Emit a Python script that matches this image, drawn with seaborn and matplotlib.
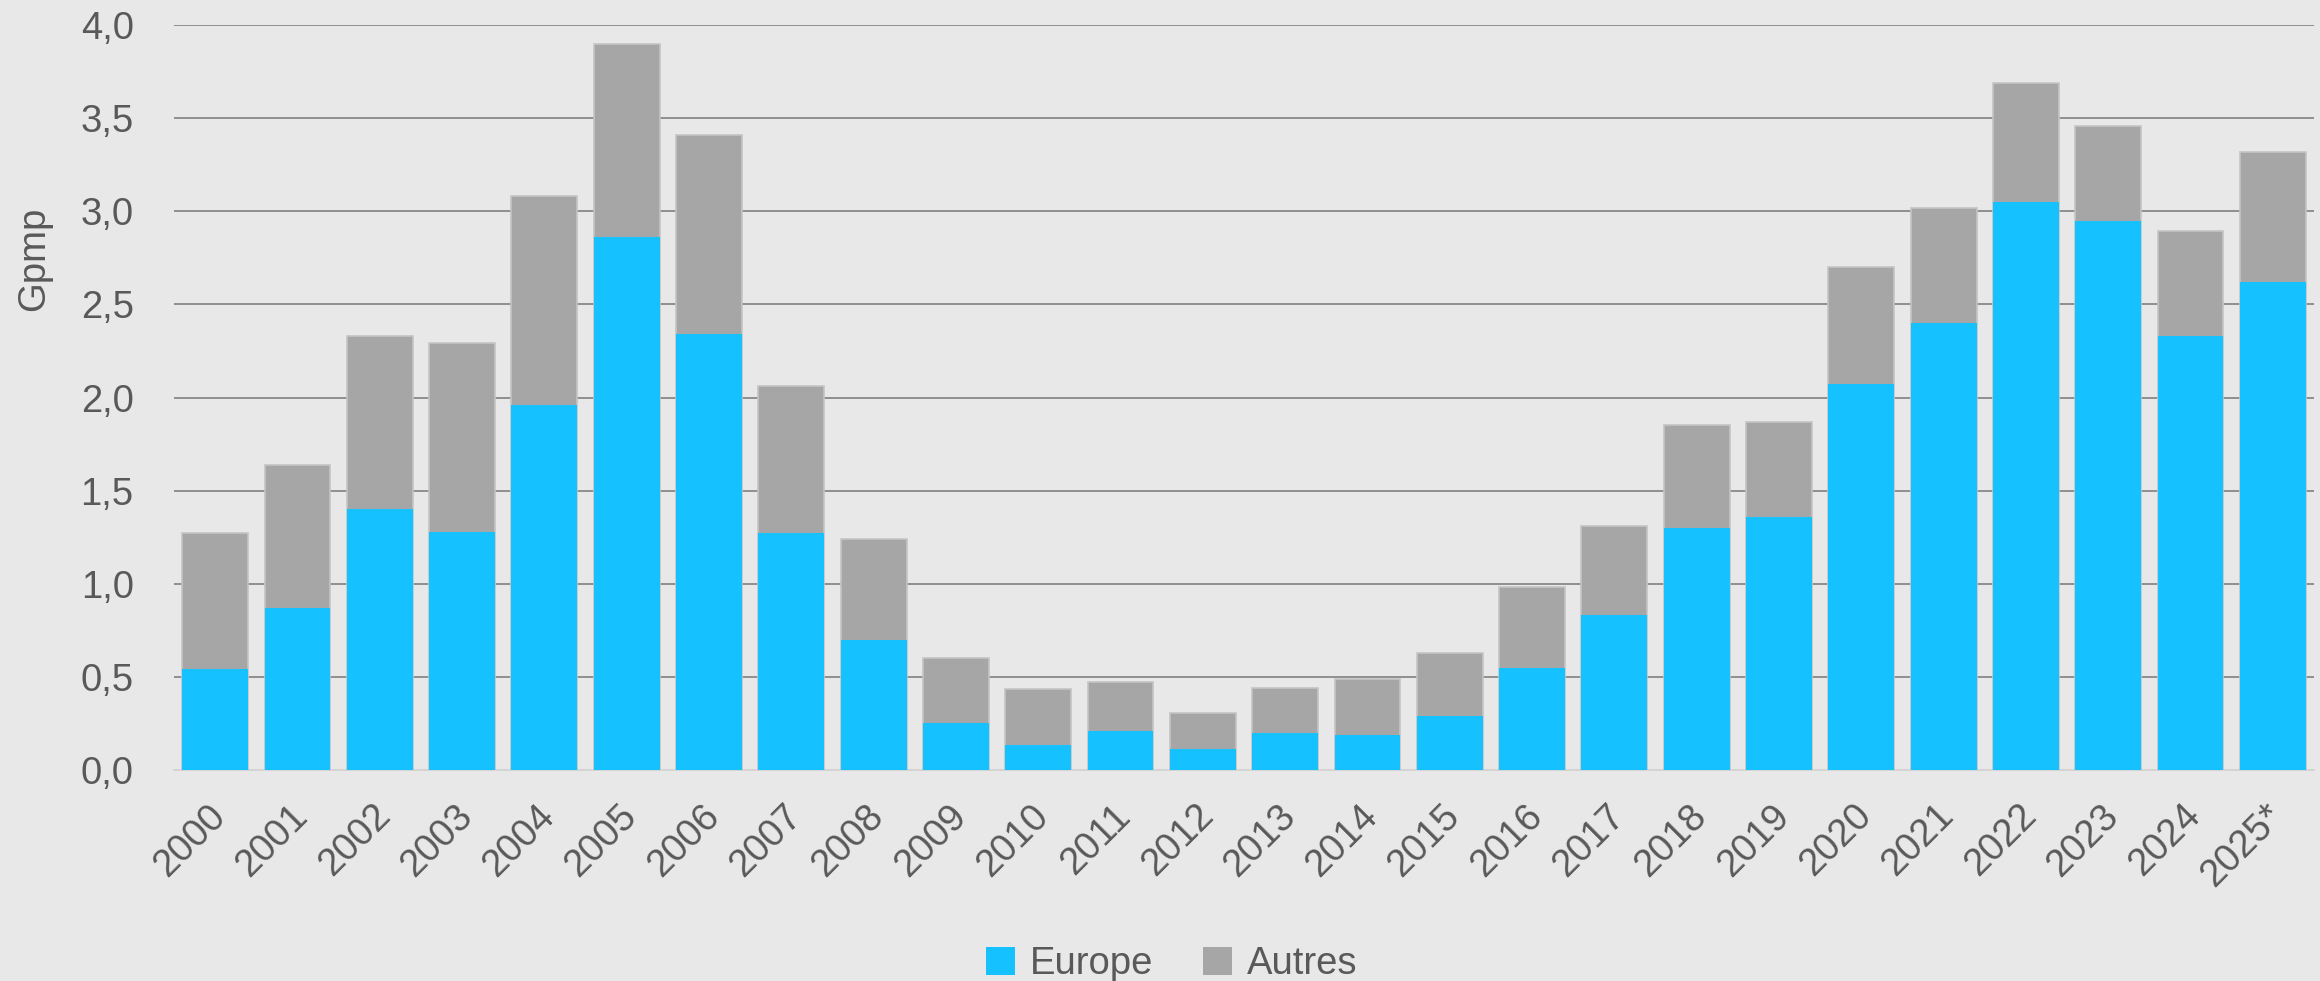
import matplotlib.pyplot as plt
import matplotlib.transforms as mtransforms
import numpy as np
import pandas as pd
import seaborn as sns
from matplotlib.patches import Patch

# data (Gpmp)
years = ["2000", "2001", "2002", "2003", "2004", "2005", "2006", "2007", "2008",
         "2009", "2010", "2011", "2012", "2013", "2014", "2015", "2016", "2017",
         "2018", "2019", "2020", "2021", "2022", "2023", "2024", "2025*"]
europe = [0.54, 0.87, 1.40, 1.28, 1.96, 2.86, 2.34, 1.27, 0.70,
          0.25, 0.135, 0.21, 0.115, 0.20, 0.19, 0.29, 0.55, 0.83,
          1.30, 1.36, 2.07, 2.40, 3.05, 2.95, 2.33, 2.62]
autres = [0.73, 0.77, 0.93, 1.01, 1.12, 1.04, 1.07, 0.79, 0.54,
          0.35, 0.30, 0.26, 0.19, 0.24, 0.30, 0.34, 0.43, 0.48,
          0.55, 0.51, 0.63, 0.615, 0.64, 0.51, 0.565, 0.70]
series_names = ["Europe", "Autres"]
y_ticks = [0.0, 0.5, 1.0, 1.5, 2.0, 2.5, 3.0, 3.5, 4.0]

BLUE = "#15c1ff"
GREY = "#a6a6a6"
BG = "#e8e8e8"
TEXT = "#595959"
FS = 27.5

df = pd.DataFrame({"year": years, "europe": europe, "autres": autres})
df["total"] = df["europe"] + df["autres"]

sns.set_theme(style="white")
plt.rcParams["font.family"] = ["Liberation Sans", "DejaVu Sans"]

fig = plt.figure(figsize=(23.2, 9.81), dpi=100, facecolor=BG)
ax = fig.add_axes([0.075, 0.2151, 0.9224, 0.7594])
ax.set_facecolor(BG)

# stacked: total behind, europe in front
sns.barplot(data=df, x="year", y="total", color=GREY, saturation=1, width=0.8,
            edgecolor="#c4c4c4", linewidth=1.2, ax=ax, zorder=3)
sns.barplot(data=df, x="year", y="europe", color=BLUE, saturation=1, width=0.8,
            edgecolor="#c4c4c4", linewidth=0, ax=ax, zorder=4)

ax.set_xlim(-0.5, len(years) - 0.5)
ax.set_ylim(0, 4.0)
ax.set_yticks(y_ticks)
ax.set_yticklabels([f"{v:.1f}".replace(".", ",") for v in y_ticks])
ax.yaxis.grid(True, color="#808080", linewidth=1.2, zorder=0)
ax.xaxis.grid(False)
ax.set_axisbelow(True)

for side in ["top", "right", "left"]:
    ax.spines[side].set_visible(False)
ax.spines["bottom"].set_color("#d4d4d4")
ax.spines["bottom"].set_linewidth(1.5)

ax.tick_params(axis="y", length=0, pad=29, labelsize=FS, labelcolor=TEXT)
ax.tick_params(axis="x", length=0, pad=20, labelsize=FS, labelcolor=TEXT)
offset = mtransforms.ScaledTranslation(-8 / 100, 0, fig.dpi_scale_trans)
for lab in ax.get_xticklabels():
    lab.set_rotation(45)
    lab.set_ha("right")
    lab.set_va("top")
    lab.set_rotation_mode("anchor")
    lab.set_transform(lab.get_transform() + offset)

ax.set_xlabel("")
ax.set_ylabel("Gpmp", fontsize=FS, color=TEXT)
ax.yaxis.set_label_coords(-0.057, 0.686)

handles = [Patch(facecolor=BLUE, edgecolor="none"), Patch(facecolor=GREY, edgecolor="none")]
fig.legend(handles, series_names, loc="center", bbox_to_anchor=(0.505, 0.017),
           ncol=2, frameon=False, fontsize=FS, labelcolor=TEXT,
           handlelength=0.75, handleheight=0.75, handletextpad=0.4, columnspacing=1.3)

fig.savefig("out.png", dpi=100, facecolor=BG)
